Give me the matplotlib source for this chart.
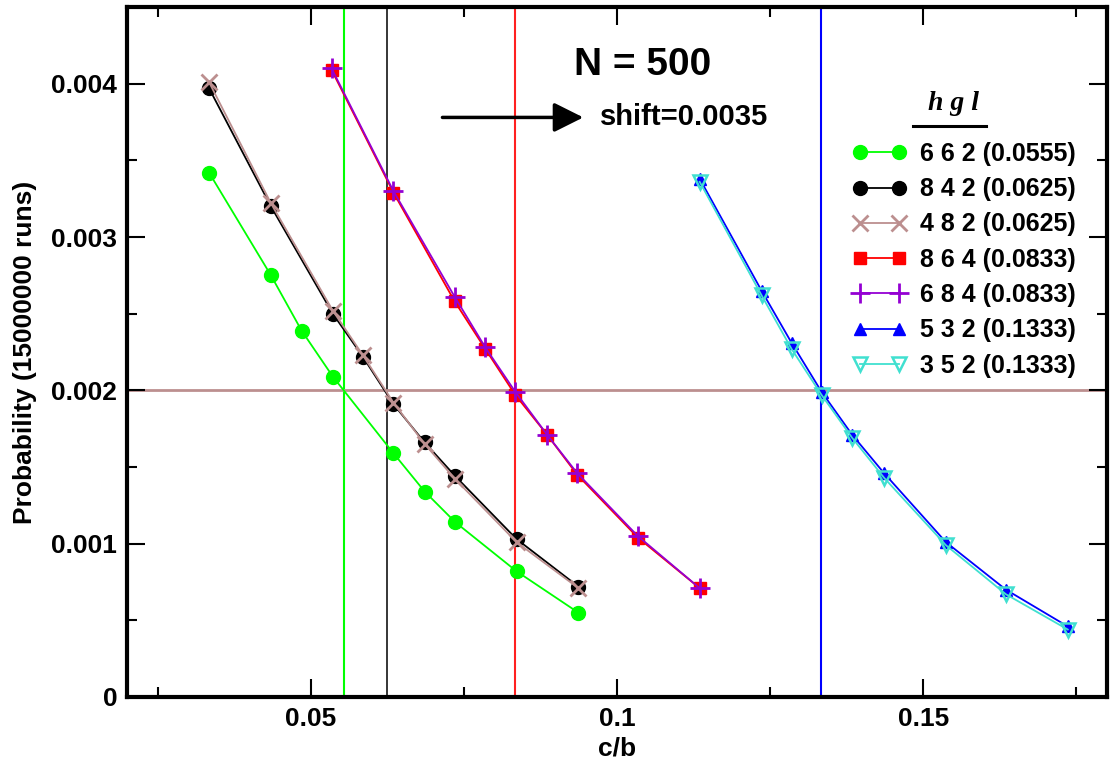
import matplotlib
matplotlib.use('Agg')
import matplotlib.pyplot as plt
from matplotlib.lines import Line2D
from matplotlib.ticker import MultipleLocator, FuncFormatter

plt.rcParams['font.family'] = ['Liberation Sans', 'DejaVu Sans']
plt.rcParams['font.weight'] = 'bold'
plt.rcParams['axes.labelweight'] = 'bold'

# Datos (c/b, probabilidad)
x_662 = [0.0334, 0.0435, 0.0485, 0.0536, 0.0635, 0.0686, 0.0736, 0.0836, 0.0937]
y_662 = [0.00342, 0.00275, 0.00239, 0.00209, 0.00159, 0.00134, 0.00114, 0.00082, 0.00055]

x_842 = [0.0334, 0.0435, 0.0536, 0.0585, 0.0635, 0.0686, 0.0736, 0.0836, 0.0937]
y_842 = [0.00397, 0.00320, 0.00250, 0.00222, 0.00191, 0.00166, 0.00144, 0.00103, 0.00072]
y_482 = [0.00401, 0.00322, 0.00252, 0.00223, 0.00192, 0.00165, 0.00142, 0.00101, 0.00071]

x_864 = [0.0534, 0.0635, 0.0735, 0.0785, 0.0834, 0.0886, 0.0935, 0.1034, 0.1135]
y_864 = [0.00409, 0.00329, 0.00258, 0.00227, 0.00197, 0.00171, 0.00145, 0.00104, 0.00071]
y_684 = [0.00410, 0.00330, 0.00261, 0.00228, 0.00199, 0.00171, 0.00146, 0.00105, 0.00071]

x_532 = [0.1135, 0.1236, 0.1285, 0.1334, 0.1384, 0.1436, 0.1537, 0.1635, 0.1736]
y_532 = [0.00338, 0.00265, 0.00231, 0.00199, 0.00171, 0.00146, 0.00101, 0.00070, 0.00046]
y_352 = [0.00336, 0.00262, 0.00227, 0.00197, 0.00169, 0.00143, 0.00099, 0.00067, 0.00044]

# lineas de referencia
vlines = [0.0555, 0.0625, 0.0833, 0.1333]
vline_colors = ['#00ff00', 'black', '#ff2020', '#0000ff']
p_ref = 0.002

fig = plt.figure(figsize=(11.1, 7.64), dpi=100)
ax = fig.add_axes([0.1144, 0.0877, 0.8829, 0.9031])

for xv, c in zip(vlines, vline_colors):
    ax.axvline(xv, color=c, lw=1.5 if c != 'black' else 1.1, zorder=1)
ax.axhline(p_ref, color='#bc8f8f', lw=2, zorder=1)

ax.plot(x_662, y_662, '-o', color='#00ff00', ms=10, lw=1.3, label='6 6 2 (0.0555)', zorder=3)
ax.plot(x_842, y_842, '-o', color='black', ms=10, lw=1.3, label='8 4 2 (0.0625)', zorder=3)
ax.plot(x_842, y_482, '-x', color='#bc8f8f', ms=11, mew=2, lw=1.3, label='4 8 2 (0.0625)', zorder=4)
ax.plot(x_864, y_864, '-s', color='#ff0000', ms=9, lw=1.3, label='8 6 4 (0.0833)', zorder=3)
ax.plot(x_864, y_684, '-+', color='#9400d3', ms=14, mew=2, lw=1.3, label='6 8 4 (0.0833)', zorder=4)
ax.plot(x_532, y_532, '-^', color='#0000ff', ms=8, lw=1.3, label='5 3 2 (0.1333)', zorder=3)
ax.plot(x_532, y_352, '-v', color='#40e0d0', mfc='none', mew=1.8, ms=10, lw=1.3,
        label='3 5 2 (0.1333)', zorder=4)

ax.set_xlim(0.02, 0.18)
ax.set_ylim(0, 0.0045)
ax.xaxis.set_major_locator(MultipleLocator(0.05))
ax.xaxis.set_minor_locator(MultipleLocator(0.025))
ax.yaxis.set_major_locator(MultipleLocator(0.001))
ax.yaxis.set_minor_locator(MultipleLocator(0.0005))
fmt = FuncFormatter(lambda v, p: '0' if abs(v) < 1e-12 else f'{v:g}')
ax.xaxis.set_major_formatter(fmt)
ax.yaxis.set_major_formatter(fmt)

ax.tick_params(which='both', direction='in', top=True, right=True, width=1.5, labelsize=19, pad=7)
ax.tick_params(which='major', length=13)
ax.tick_params(which='minor', length=7)
for s in ax.spines.values():
    s.set_linewidth(3)

ax.set_xlabel('c/b', fontsize=19, labelpad=4)
ax.set_ylabel('Probability (15000000 runs)', fontsize=19, labelpad=10)

ax.text(0.1042, 0.00412, 'N = 500', fontsize=28, ha='center', va='center')
ax.annotate('', xy=(0.0945, 0.00378), xytext=(0.0715, 0.00378),
            arrowprops=dict(arrowstyle='-|>,head_length=0.9,head_width=0.45',
                            mutation_scale=20, color='black', lw=2.5, shrinkA=0, shrinkB=0))
ax.text(0.0972, 0.00378, 'shift=0.0035', fontsize=21, ha='left', va='center')

leg = ax.legend(loc='upper left', bbox_to_anchor=(852.5 / 1110, 1 - 142 / 764),
                bbox_transform=fig.transFigure, frameon=False, fontsize=18,
                handlelength=2.16, handletextpad=0.54, labelspacing=0.45,
                borderpad=0, borderaxespad=0, numpoints=2)

fig.text(954 / 1110, 1 - 103 / 764, 'h g l', fontsize=20, fontstyle='italic',
         fontweight='bold', family='Liberation Serif', ha='center', va='center')
fig.add_artist(Line2D([913 / 1110, 986 / 1110], [1 - 126 / 764, 1 - 126 / 764],
                      color='black', lw=2.2, transform=fig.transFigure))

fig.savefig('out.png', dpi=100)
